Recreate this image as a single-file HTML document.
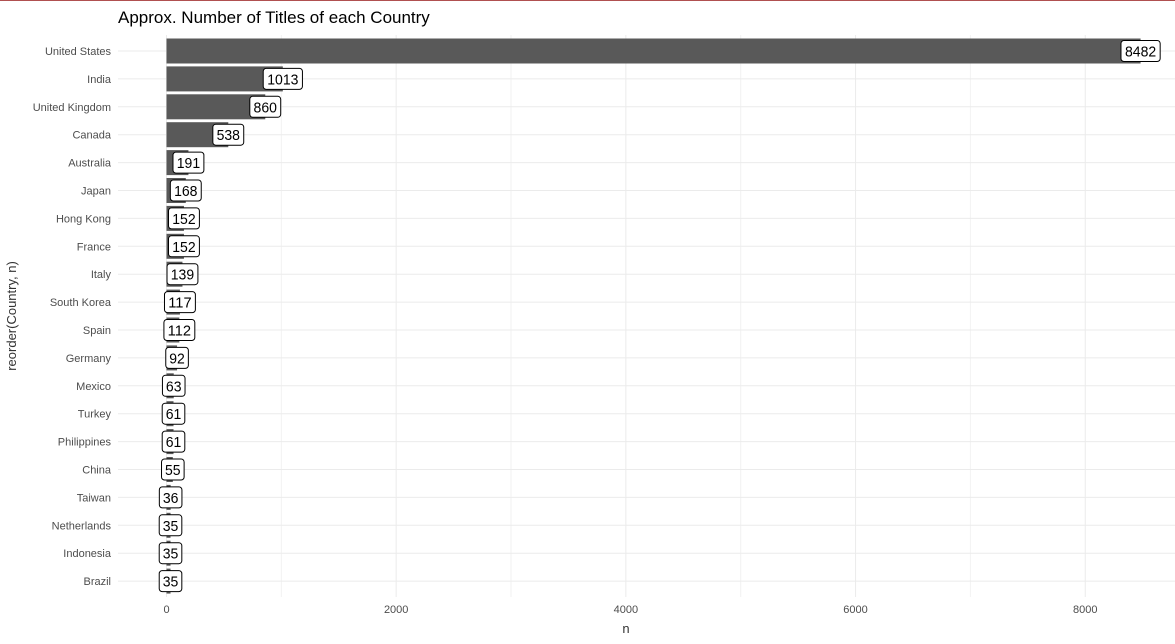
<!DOCTYPE html>
<html><head><meta charset="utf-8"><style>
body{margin:0;background:#fff;width:1175px;height:639px;overflow:hidden;font-family:"Liberation Sans",sans-serif}
svg text{font-family:"Liberation Sans",sans-serif}
</style></head><body>
<svg id="chart" width="1175" height="639" xmlns="http://www.w3.org/2000/svg">
<line x1="0" y1="0.5" x2="1175" y2="0.5" stroke="#b05050" stroke-width="1"/>
<text x="118" y="23" font-size="17" fill="#000">Approx. Number of Titles of each Country</text>
<g id="grid"></g><g id="bars"></g><g id="labels"></g><g id="axes"></g>
<text x="626" y="633" font-size="13" fill="#333" text-anchor="middle">n</text>
<text transform="translate(16,316) rotate(-90)" font-size="13" fill="#333" text-anchor="middle">reorder(Country, n)</text>
</svg>
<script>
const countries=["United States","India","United Kingdom","Canada","Australia","Japan","Hong Kong","France","Italy","South Korea","Spain","Germany","Mexico","Turkey","Philippines","China","Taiwan","Netherlands","Indonesia","Brazil"];
const counts=[8482,1013,860,538,191,168,152,152,139,117,112,92,63,61,61,55,36,35,35,35];
const xTicks=[0,2000,4000,6000,8000];
const xMinor=[1000,3000,5000,7000,9000];
const NS="http://www.w3.org/2000/svg";
const x=v=>166.5+v*0.11484;
const y=i=>51+i*27.9;
const panelL=118,panelR=1175,panelT=35,panelB=597;
function mk(tag,attrs,parent){const e=document.createElementNS(NS,tag);for(const k in attrs)e.setAttribute(k,attrs[k]);document.getElementById(parent).appendChild(e);return e;}
xMinor.forEach(v=>{if(x(v)<panelR){const l=mk('line',{x1:x(v),x2:x(v),y1:panelT,y2:panelB,stroke:'#f2f2f2','stroke-width':1},'grid');

}});
xTicks.forEach(v=>{const l=mk('line',{x1:x(v),x2:x(v),y1:panelT,y2:panelB,stroke:'#ebebeb','stroke-width':1},'grid');


const t=mk('text',{x:x(v),y:613,'font-size':11,fill:'#4d4d4d','text-anchor':'middle'},'axes');t.textContent=v;

});
countries.forEach((c,i)=>{const l=mk('line',{x1:panelL,x2:panelR,y1:y(i),y2:y(i),stroke:'#ebebeb','stroke-width':1},'grid');


const t=mk('text',{x:111,y:y(i)+4,'font-size':11,fill:'#4d4d4d','text-anchor':'end'},'axes');t.textContent=c;


const b=mk('rect',{x:x(0),y:y(i)-12.5,width:Math.max(0,x(counts[i])-x(0)),height:25,fill:'#595959'},'bars');


const s=String(counts[i]);const w=s.length*8.3+6;const cx=x(counts[i]);
const g=mk('g',{},'labels');


const r=document.createElementNS(NS,'rect');r.setAttribute('x',cx-w/2);r.setAttribute('y',y(i)-10.5);r.setAttribute('width',w);r.setAttribute('height',21);r.setAttribute('rx',3);r.setAttribute('fill','#fff');r.setAttribute('stroke','#000');r.setAttribute('stroke-width',1);g.appendChild(r);
const tt=document.createElementNS(NS,'text');tt.setAttribute('x',cx);tt.setAttribute('y',y(i)+5.5);tt.setAttribute('font-size',14.5);tt.setAttribute('textLength',s.length*7.8);tt.setAttribute('lengthAdjust','spacingAndGlyphs');tt.setAttribute('text-anchor','middle');tt.setAttribute('fill','#000');tt.textContent=s;g.appendChild(tt);
});
</script>
</body></html>
